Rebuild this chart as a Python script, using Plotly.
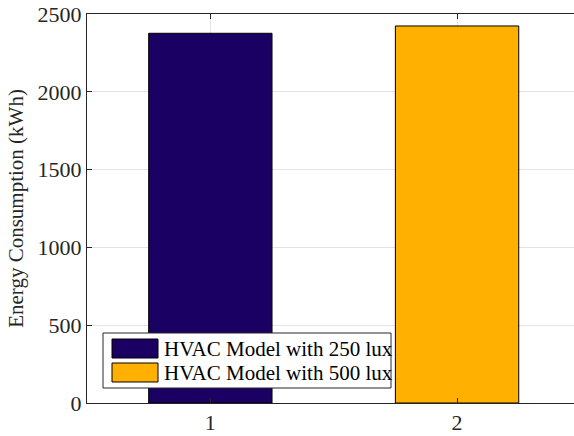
import plotly.graph_objects as go

# Energy use of the two HVAC lighting scenarios
scenarios = ["HVAC Model with 250 lux", "HVAC Model with 500 lux"]
positions = [1, 2]
energy_kwh = [2376, 2423]
bar_colors = ["#1B0063", "#FFB000"]

y_ticks = [0, 500, 1000, 1500, 2000, 2500]
x_ticks = [1, 2]

FONT = "Liberation Serif"
AXIS_COLOR = "#262626"
GRID_COLOR = "#E3E3E3"

fig = go.Figure()
for name, pos, val, col in zip(scenarios, positions, energy_kwh, bar_colors):
    fig.add_trace(go.Bar(
        x=[pos], y=[val], name=name, width=0.5,
        marker=dict(color=col, line=dict(color="#000000", width=1)),
        showlegend=False,
    ))

tick_font = dict(family=FONT, size=22, color=AXIS_COLOR)

fig.update_layout(
    width=574, height=436,
    margin=dict(l=87, r=0, t=14, b=33),
    paper_bgcolor="white", plot_bgcolor="white",
    barmode="overlay",
    font=dict(family=FONT, size=21, color=AXIS_COLOR),
    xaxis=dict(
        range=[0.5, 2.474], tickvals=x_ticks, ticktext=[str(t) for t in x_ticks],
        showgrid=True, gridcolor=GRID_COLOR, gridwidth=1,
        showline=True, linecolor=AXIS_COLOR, linewidth=1, mirror="ticks",
        ticks="inside", ticklen=5, tickcolor=AXIS_COLOR, tickwidth=1,
        zeroline=False, tickfont=tick_font,
    ),
    yaxis=dict(
        range=[0, 2500], tickvals=y_ticks, ticktext=[str(t) for t in y_ticks],
        showgrid=True, gridcolor=GRID_COLOR, gridwidth=1,
        showline=True, linecolor=AXIS_COLOR, linewidth=1, mirror=False,
        ticks="inside", ticklen=5, tickcolor=AXIS_COLOR, tickwidth=1,
        zeroline=False, tickfont=tick_font,
        title=dict(text="Energy Consumption (kWh)",
                   font=dict(family=FONT, size=21, color=AXIS_COLOR), standoff=8),
    ),
)

# Legend box drawn in paper coordinates
def px_x(px):
    return (px - 87) / (574 - 87)

def px_y(py):
    return (436 - 33 - py) / (436 - 33 - 14)

fig.add_shape(type="rect", xref="paper", yref="paper",
              x0=px_x(103), x1=px_x(391), y0=px_y(388), y1=px_y(333),
              line=dict(color="#262626", width=1), fillcolor="white", layer="above")
row_tops = [339, 363]
for name, col, top in zip(scenarios, bar_colors, row_tops):
    fig.add_shape(type="rect", xref="paper", yref="paper",
                  x0=px_x(112), x1=px_x(158), y0=px_y(top + 19), y1=px_y(top),
                  line=dict(color="#000000", width=1), fillcolor=col, layer="above")
    fig.add_annotation(xref="paper", yref="paper", x=px_x(162), y=px_y(top + 9.5),
                       text=name, showarrow=False, xanchor="left", yanchor="middle",
                       font=dict(family=FONT, size=21, color="#000000"))

fig.write_html("out.html")
